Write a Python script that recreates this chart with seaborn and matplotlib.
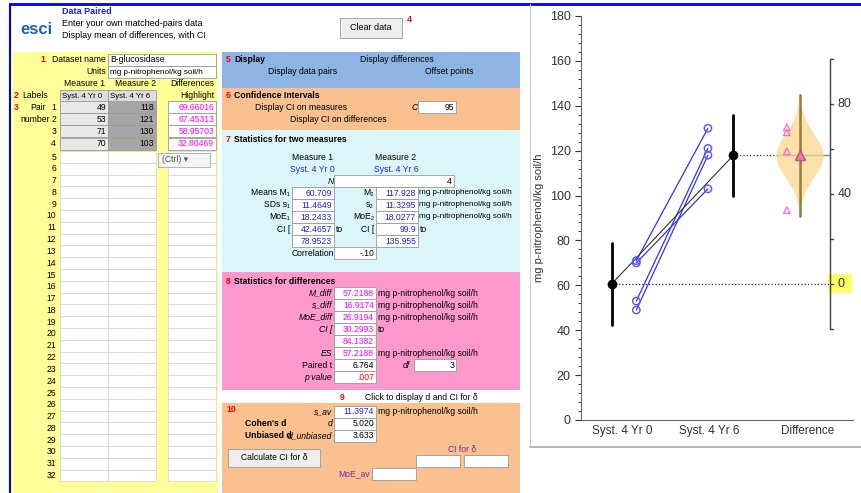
import matplotlib
matplotlib.use('Agg')
import matplotlib.pyplot as plt
import matplotlib.patches as mpatches
import seaborn as sns
import numpy as np
import pandas as pd

sns.set_style('white')
plt.rcParams['font.family'] = ['Liberation Sans', 'DejaVu Sans']

# data
labels = ['Syst. 4 Yr 0', 'Syst. 4 Yr 6', 'Difference']
measure1 = [49, 53, 71, 70]
measure2 = [118, 121, 130, 103]
differences = [69.66016, 67.45313, 58.95703, 32.80469]
m1, m2 = 60.709, 117.928
ci1 = [42.4657, 78.9523]
ci2 = [99.9, 135.955]
mdiff = 57.2188
ci_diff = [30.2993, 84.1382]
moe_diff = 26.9194
diff_ticks = [-20, 0, 20, 40, 60, 80, 100]
diff_labels = ['0', '40', '80']

W, H = 861, 493
fig = plt.figure(figsize=(W / 100, H / 100), dpi=100)

# ---------- spreadsheet mock (pixel coordinates) ----------
sh = fig.add_axes([0, 0, 1, 1])
sh.set_xlim(0, W)
sh.set_ylim(H, 0)
sh.axis('off')

def box(x, y, w, h, fc, ec='none', lw=0.6):
    sh.add_patch(mpatches.Rectangle((x, y), w, h, fc=fc, ec=ec, lw=lw))

def txt(x, y, s, ha='left', color='black', size=6.2, weight='normal', style='normal'):
    sh.text(x, y, s, ha=ha, va='center', color=color, fontsize=size,
            fontweight=weight, fontstyle=style)

sh.plot([10, 861], [4, 4], color='#0000EE', lw=2)
sh.plot([530, 861], [447, 447], color='#BBBBBB', lw=1.5)
sh.plot([10, 10], [4, 493], color='#0000EE', lw=1.5)
sh.plot([530, 530], [4, 447], color='#CCCCCC', lw=0.8)

txt(20, 30, 'esci', color='#1F5FBF', size=12, weight='bold')
txt(62, 11, 'Data Paired', color='#2222DD', size=6.5, weight='bold')
txt(62, 23, 'Enter your own matched-pairs data', size=6.5)
txt(62, 35, 'Display mean of differences, with CI', size=6.5)
box(340, 18, 62, 20, '#EEEEEE', '#999999')
txt(371, 28, 'Clear data', ha='center', size=6.5)
txt(407, 20, '4', color='red', size=6.5, weight='bold')

# left yellow panel
box(10, 52, 208, 441, '#FFFF99')
box(108, 54, 108, 12, 'white', '#999999')
txt(110, 60, 'B-glucosidase')
box(108, 66, 108, 12, 'white', '#999999')
txt(110, 72, 'mg p-nitrophenol/kg soil/h', size=5.9)
txt(40, 60, '1', color='red', weight='bold')
txt(106, 60, 'Dataset name', ha='right')
txt(106, 72, 'Units', ha='right')
txt(84, 84, 'Measure 1', ha='center')
txt(136, 84, 'Measure 2', ha='center')
txt(214, 84, 'Differences', ha='right')
txt(14, 96, '2', color='red', weight='bold')
txt(22, 96, 'Labels')
txt(214, 96, 'Highlight', ha='right')
box(60, 90, 48, 12, '#DDDDDD', '#999999')
box(108, 90, 48, 12, '#DDDDDD', '#999999')
txt(62, 96, labels[0], size=5.6)
txt(110, 96, labels[1], size=5.6)
txt(14, 107, '3', color='red', weight='bold')
txt(30, 107, 'Pair')
txt(20, 119, 'number')
for i in range(32):
    y = 107 + i * 12.2 if i < 4 else 157 + (i - 4) * 11.8
    txt(56, y, str(i + 1), ha='right')
    if i < 4:
        box(60, y - 6, 48, 12, '#E8E8E8', '#999999')
        box(108, y - 6, 48, 12, '#A6A6A6', '#999999')
        box(168, y - 6, 48, 12, 'white', '#999999')
        txt(106, y, str(measure1[i]), ha='right')
        txt(154, y, str(measure2[i]), ha='right')
        txt(214, y, f'{differences[i]:.5f}', ha='right', color='#FF00FF')
    else:
        box(60, y - 6, 48, 11.8, 'white', '#CCCCCC', 0.4)
        box(108, y - 6, 48, 11.8, 'white', '#CCCCCC', 0.4)
        box(168, y - 6, 48, 11.8, 'white', '#CCCCCC', 0.4)
box(158, 153, 52, 14, '#F4F4F4', '#AAAAAA')
txt(162, 160, '(Ctrl) ▾', color='#555555')

# right panels
box(222, 52, 298, 36, '#8DB4E2')
txt(226, 59, '5', color='red', weight='bold')
txt(234, 59, 'Display', weight='bold')
txt(360, 59, 'Display differences')
txt(268, 71, 'Display data pairs')
txt(425, 71, 'Offset points')
box(222, 88, 298, 42, '#FAC090')
txt(226, 96, '6', color='red', weight='bold')
txt(234, 96, 'Confidence Intervals', weight='bold')
txt(255, 107, 'Display CI on measures')
txt(290, 119, 'Display CI on differences')
txt(412, 107, 'C', style='italic')
box(418, 101, 38, 12, 'white', '#999999')
txt(454, 107, '95', ha='right')

box(222, 130, 298, 142, '#DAF6F9')
txt(226, 139, '7', color='red', weight='bold')
txt(234, 139, 'Statistics for two measures', weight='bold')
txt(312, 157, 'Measure 1', ha='center')
txt(396, 157, 'Measure 2', ha='center')
txt(312, 169, labels[0], ha='center', color='#2222DD')
txt(396, 169, labels[1], ha='center', color='#2222DD')
txt(334, 181, 'N', ha='right', style='italic')
box(334, 175, 120, 12, 'white', '#999999')
txt(452, 181, '4', ha='right')
rows1 = [('Means M₁', f'{m1:.3f}', 'M₂', f'{m2:.3f}'),
         ('SDs s₁', '11.4649', 's₂', '11.3295'),
         ('MoE₁', '18.2433', 'MoE₂', '18.0277'),
         ('CI [', f'{ci1[0]:.4f}', 'CI [', f'{ci2[0]}'),
         ('', f'{ci1[1]:.4f}', '', f'{ci2[1]}')]
for k, (a, b, c, d) in enumerate(rows1):
    y = 193 + k * 12
    txt(290, y, a, ha='right')
    box(292, y - 6, 42, 12, 'white', '#999999')
    txt(332, y, b, ha='right', color='#2222DD')
    txt(374, y, c, ha='right')
    box(376, y - 6, 42, 12, 'white', '#999999')
    txt(416, y, d, ha='right', color='#2222DD')
    if k < 3:
        txt(419, y, 'mg p-nitrophenol/kg soil/h', size=5.9)
txt(336, 229, 'to')
txt(420, 229, 'to')
txt(334, 253, 'Correlation', ha='right')
box(334, 247, 42, 12, 'white', '#999999')
txt(374, 253, '-.10', ha='right')

box(222, 272, 298, 118, '#FF99CC')
txt(226, 281, '8', color='red', weight='bold')
txt(234, 281, 'Statistics for differences', weight='bold')
rows2 = [('M_diff', f'{mdiff:.4f}', True), ('s_diff', '16.9174', True),
         ('MoE_diff', f'{moe_diff:.4f}', True), ('CI [', f'{ci_diff[0]:.4f}', False),
         ('', f'{ci_diff[1]:.4f}', False), ('ES', f'{mdiff:.4f}', True)]
for k, (a, b, u) in enumerate(rows2):
    y = 293 + k * 12
    txt(332, y, a, ha='right', style='italic')
    box(334, y - 6, 42, 12, 'white', '#999999')
    txt(374, y, b, ha='right', color='#FF00FF')
    if u:
        txt(378, y, 'mg p-nitrophenol/kg soil/h')
txt(378, 329, 'to')
txt(332, 365, 'Paired t', ha='right')
box(334, 359, 42, 12, 'white', '#999999')
txt(374, 365, '6.764', ha='right')
txt(410, 365, 'df', ha='right', style='italic')
box(414, 359, 42, 12, 'white', '#999999')
txt(454, 365, '3', ha='right')
txt(332, 377, 'p value', ha='right', style='italic')
box(334, 371, 42, 12, 'white', '#999999')
txt(374, 377, '.007', ha='right', color='red')

txt(340, 397, '9', color='red', weight='bold')
txt(365, 397, 'Click to display d and CI for δ')
box(222, 403, 298, 90, '#FAC090')
txt(226, 410, '10', color='red', weight='bold')
txt(332, 412, 's_av', ha='right', style='italic')
box(334, 406, 42, 12, 'white', '#999999')
txt(374, 412, '11.3974', ha='right', color='#2222DD')
txt(378, 412, 'mg p-nitrophenol/kg soil/h')
txt(245, 424, "Cohen's d", weight='bold')
txt(332, 424, 'd', ha='right', style='italic')
box(334, 418, 42, 12, 'white', '#999999')
txt(374, 424, '5.020', ha='right')
txt(245, 436, 'Unbiased d', weight='bold')
txt(332, 436, 'd_unbiased', ha='right', style='italic')
box(334, 430, 42, 12, 'white', '#999999')
txt(374, 436, '3.633', ha='right')
box(228, 449, 92, 18, '#EEEEEE', '#999999')
txt(274, 458, 'Calculate CI for δ', ha='center')
txt(462, 449, 'CI for δ', ha='center', color='#7030A0')
box(416, 455, 44, 12, 'white', '#999999')
box(464, 455, 44, 12, 'white', '#999999')
txt(370, 474, 'MoE_av', ha='right', color='#7030A0')
box(372, 468, 44, 12, 'white', '#999999')

# ---------- chart ----------
ax = fig.add_axes([581 / W, 1 - 420 / H, 272 / W, 404 / H])
ax.set_xlim(0, 3)
ax.set_ylim(0, 180)
x_mean = [0.34, 1.68]
x_pts = [0.61, 1.40]
x_tri, x_dm, x_axis = 2.27, 2.41, 2.75

df = pd.DataFrame({'x0': x_pts[0], 'y0': measure1, 'x1': x_pts[1], 'y1': measure2})
for _, r in df.iterrows():
    ax.plot([r.x0, r.x1], [r.y0, r.y1], color='#3333EE', lw=0.9, zorder=3)
pts = pd.DataFrame({'x': [x_pts[0]] * 4 + [x_pts[1]] * 4, 'y': measure1 + measure2})
sns.scatterplot(data=pts, x='x', y='y', ax=ax, marker='o', s=28, facecolor='none',
                edgecolor='#5555FF', linewidth=1, zorder=4)

ax.plot(x_mean, [m1, m2], color='#333333', lw=0.8, zorder=3)
for xm, m, ci in zip(x_mean, [m1, m2], [ci1, ci2]):
    ax.plot([xm, xm], ci, color='black', lw=2, zorder=5)
    ax.plot(xm, m, 'o', color='black', ms=6, zorder=6)

ax.plot([x_mean[0], x_axis], [m1, m1], ls=':', color='#333333', lw=0.9)
ax.plot([x_mean[1], x_dm - 0.25], [m2, m2], ls=':', color='#333333', lw=0.9)
ax.plot([x_dm - 0.25, x_axis], [m2, m2], color='#888888', lw=1)

# violin (curve of the CI: sampling distribution scaled by SE)
se = moe_diff / 3.182
tt = np.linspace(-3.8, 3.8, 200)
dens = np.exp(-tt ** 2 / 2.6)
half = 0.26 * dens
yy = m1 + mdiff + tt * se
ax.fill_betweenx(yy, x_dm - half, x_dm + half, color='#FBD78F', alpha=0.75, lw=0, zorder=2)
ax.plot([x_dm, x_dm], [m1 + ci_diff[0], m1 + ci_diff[1]], color='#9A7A3A', lw=1.8, zorder=5)
ax.plot(x_dm, m1 + mdiff, '^', color='#E87AA8', ms=7, mec='#C05080', zorder=6)
ax.scatter([x_tri] * 4, [m1 + d for d in differences], marker='^', s=22,
           facecolor='none', edgecolor='#FF66CC', linewidth=0.9, zorder=4)

# difference axis
ax.plot([x_axis, x_axis], [m1 - 20, m1 + 100], color='#444444', lw=1)
for d in diff_ticks:
    ax.plot([x_axis, x_axis + 0.03], [m1 + d, m1 + d], color='#444444', lw=1)
ax.add_patch(mpatches.Rectangle((x_axis - 0.03, m1 - 4), 0.27, 8.5, fc='#FFFF66', ec='none', zorder=1))
for lab in diff_labels:
    ax.text(x_axis + 0.08, m1 + float(lab), lab, va='center', fontsize=9, color='#333333')

sns.despine(ax=ax, top=True, right=True)
ax.set_yticks(range(0, 181, 20))
ax.set_yticks(range(0, 181, 4), minor=True)
ax.tick_params(axis='y', which='major', length=4, labelsize=9, colors='#333333', direction='out', left=True)
ax.tick_params(axis='y', which='minor', length=2, left=True)
ax.set_xticks([0.46, 1.42, 2.50])
ax.set_xticklabels(labels, fontsize=8.5, color='#333333')
ax.tick_params(axis='x', length=0)
ax.set_xlabel('')
ax.set_ylabel('mg p-nitrophenol/kg soil/h', fontsize=8, color='#333333')
for s in ['left', 'bottom']:
    ax.spines[s].set_color('#666666')

fig.savefig('out.png', dpi=100)
